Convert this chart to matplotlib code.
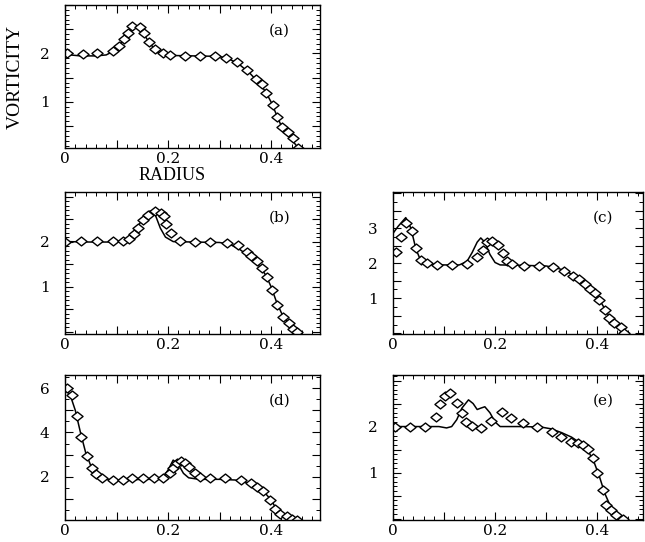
import matplotlib
matplotlib.use('Agg')
import matplotlib.pyplot as plt
from matplotlib.ticker import MultipleLocator, FuncFormatter
from matplotlib.path import Path
import numpy as np

# ---- data (radius, vorticity) ----
# (a)
a_line_r = [0, 0.03, 0.06, 0.08, 0.1, 0.115, 0.13, 0.14, 0.15, 0.165, 0.18, 0.2, 0.25,
            0.3, 0.32, 0.34, 0.36, 0.38, 0.39, 0.4, 0.41, 0.42, 0.43, 0.44, 0.453]
a_line_w = [1.98, 1.95, 1.95, 1.97, 2.08, 2.3, 2.52, 2.55, 2.45, 2.2, 2.03, 1.96, 1.95,
            1.94, 1.88, 1.76, 1.58, 1.35, 1.2, 1.0, 0.75, 0.5, 0.35, 0.22, 0.05]
a_pts_r = [0.003, 0.034, 0.063, 0.094, 0.104, 0.115, 0.123, 0.131, 0.146, 0.153, 0.164,
           0.175, 0.191, 0.204, 0.233, 0.262, 0.291, 0.313, 0.333, 0.353, 0.371, 0.382,
           0.39, 0.403, 0.411, 0.421, 0.432, 0.443, 0.453]
a_pts_w = [2.0, 1.98, 2.0, 2.06, 2.15, 2.3, 2.42, 2.56, 2.54, 2.42, 2.23, 2.1, 2.01,
           1.96, 1.95, 1.95, 1.95, 1.91, 1.82, 1.66, 1.47, 1.37, 1.18, 0.93, 0.69,
           0.48, 0.38, 0.25, 0.06]

# (b)
b_line_r = [0, 0.05, 0.1, 0.12, 0.135, 0.15, 0.165, 0.175, 0.185, 0.195, 0.21, 0.25, 0.3,
            0.32, 0.34, 0.36, 0.38, 0.39, 0.4, 0.41, 0.42, 0.43, 0.44, 0.452]
b_line_w = [2.0, 1.99, 1.99, 2.03, 2.2, 2.5, 2.68, 2.6, 2.3, 2.1, 2.0, 1.99, 1.98,
            1.94, 1.82, 1.65, 1.42, 1.25, 1.0, 0.68, 0.42, 0.25, 0.12, 0.0]
b_pts_r = [0.0, 0.032, 0.063, 0.093, 0.113, 0.124, 0.133, 0.142, 0.152, 0.162, 0.175,
           0.186, 0.192, 0.197, 0.205, 0.223, 0.252, 0.282, 0.314, 0.335, 0.353, 0.362,
           0.372, 0.382, 0.392, 0.401, 0.411, 0.424, 0.434, 0.443, 0.45]
b_pts_w = [2.0, 2.01, 2.01, 2.01, 2.02, 2.05, 2.17, 2.3, 2.47, 2.59, 2.67, 2.63, 2.56,
           2.39, 2.19, 2.02, 1.99, 1.99, 1.96, 1.93, 1.78, 1.67, 1.56, 1.41, 1.22, 0.93,
           0.59, 0.32, 0.19, 0.07, 0.0]

# (c)
c_line_r = [0, 0.01, 0.025, 0.035, 0.045, 0.055, 0.07, 0.1, 0.13, 0.145, 0.155, 0.165,
            0.172, 0.18, 0.19, 0.2, 0.21, 0.25, 0.3, 0.32, 0.34, 0.36, 0.38, 0.395,
            0.405, 0.415, 0.425, 0.435, 0.445, 0.455]
c_line_w = [2.85, 3.05, 3.3, 3.0, 2.4, 2.05, 1.97, 1.95, 1.95, 2.05, 2.3, 2.6, 2.72, 2.6,
            2.25, 2.02, 1.95, 1.94, 1.92, 1.87, 1.77, 1.6, 1.38, 1.15, 0.95, 0.7, 0.45,
            0.28, 0.15, 0.0]
c_pts_r = [0.005, 0.016, 0.026, 0.037, 0.046, 0.055, 0.066, 0.087, 0.115, 0.145, 0.165,
           0.176, 0.184, 0.195, 0.205, 0.215, 0.224, 0.234, 0.256, 0.286, 0.314, 0.335,
           0.353, 0.364, 0.377, 0.387, 0.395, 0.403, 0.416, 0.423, 0.434, 0.446, 0.453]
c_pts_w = [2.33, 2.76, 3.14, 2.93, 2.43, 2.1, 2.0, 1.95, 1.95, 1.98, 2.19, 2.38, 2.59,
           2.62, 2.52, 2.29, 2.07, 1.97, 1.93, 1.93, 1.9, 1.78, 1.64, 1.54, 1.4, 1.27,
           1.14, 0.95, 0.67, 0.43, 0.29, 0.19, 0.0]

# (d)
d_line_r = [0, 0.01, 0.02, 0.03, 0.04, 0.05, 0.06, 0.07, 0.09, 0.12, 0.15, 0.18, 0.19,
            0.2, 0.21, 0.22, 0.23, 0.24, 0.26, 0.3, 0.33, 0.35, 0.37, 0.385, 0.4, 0.41,
            0.42, 0.43, 0.44, 0.452]
d_line_w = [6.0, 5.7, 5.0, 4.0, 3.1, 2.5, 2.15, 1.95, 1.85, 1.85, 1.88, 1.88, 1.95, 2.3,
            2.75, 2.55, 2.15, 1.95, 1.88, 1.88, 1.85, 1.75, 1.55, 1.35, 0.95, 0.55, 0.35,
            0.22, 0.12, 0.03]
d_pts_r = [0.003, 0.013, 0.024, 0.032, 0.043, 0.052, 0.061, 0.071, 0.093, 0.112, 0.131,
           0.152, 0.173, 0.191, 0.203, 0.21, 0.217, 0.225, 0.233, 0.241, 0.252, 0.262,
           0.282, 0.311, 0.341, 0.361, 0.372, 0.385, 0.398, 0.408, 0.417, 0.43, 0.44, 0.45]
d_pts_w = [6.0, 5.7, 4.76, 3.79, 2.94, 2.38, 2.12, 1.92, 1.85, 1.85, 1.92, 1.95, 1.95,
           1.95, 2.15, 2.38, 2.6, 2.73, 2.6, 2.42, 2.18, 2.0, 1.92, 1.92, 1.85, 1.7,
           1.55, 1.36, 0.94, 0.52, 0.3, 0.21, 0.1, 0.03]

# (e)
e_line_r = [0, 0.05, 0.09, 0.105, 0.115, 0.125, 0.135, 0.148, 0.157, 0.165, 0.172, 0.18,
            0.19, 0.2, 0.21, 0.25, 0.29, 0.31, 0.33, 0.35, 0.37, 0.385, 0.395, 0.405,
            0.415, 0.425, 0.435, 0.45]
e_line_w = [2.0, 2.0, 2.0, 1.97, 2.0, 2.15, 2.4, 2.58, 2.5, 2.37, 2.4, 2.43, 2.3, 2.1,
            2.0, 2.0, 1.99, 1.95, 1.87, 1.77, 1.62, 1.42, 1.2, 0.9, 0.55, 0.3, 0.15, 0.0]
e_pts_r = [0.003, 0.033, 0.063, 0.085, 0.092, 0.102, 0.112, 0.125, 0.135, 0.143, 0.154,
           0.172, 0.193, 0.213, 0.232, 0.254, 0.283, 0.312, 0.33, 0.349, 0.362, 0.372,
           0.382, 0.392, 0.4, 0.411, 0.418, 0.427, 0.437, 0.45]
e_pts_w = [2.0, 1.99, 2.0, 2.2, 2.49, 2.67, 2.72, 2.52, 2.29, 2.09, 2.01, 1.96, 2.11,
           2.31, 2.18, 2.07, 1.98, 1.89, 1.77, 1.67, 1.64, 1.6, 1.51, 1.31, 1.0, 0.62,
           0.3, 0.19, 0.08, 0.0]

panel_tags = ['(a)', '(b)', '(c)', '(d)', '(e)']

plt.rcParams['font.family'] = ['DejaVu Serif']

# wide, flat diamond marker
diamond = Path([(-1, 0), (0, 0.8), (1, 0), (0, -0.8), (-1, 0)],
               [Path.MOVETO, Path.LINETO, Path.LINETO, Path.LINETO, Path.CLOSEPOLY])

fig = plt.figure(figsize=(6.45, 5.42), dpi=100)

W = 645.0
H = 542.0


def box(left, top, right, bottom):
    return [left / W, 1 - bottom / H, (right - left) / W, (bottom - top) / H]


panels = [
    (box(65, 5, 320, 148), a_line_r, a_line_w, a_pts_r, a_pts_w, (0.05, 3.0), [1, 2], 0.5, 0.1, 0.495),
    (box(65, 192, 320, 334), b_line_r, b_line_w, b_pts_r, b_pts_w, (-0.05, 3.1), [1, 2], 0.5, 0.1, 0.495),
    (box(393, 192, 643, 334), c_line_r, c_line_w, c_pts_r, c_pts_w, (-0.02, 4.03), [1, 2, 3], 0.5, 0.25, 0.49),
    (box(65, 375, 320, 520), d_line_r, d_line_w, d_pts_r, d_pts_w, (0.04, 6.6), [2, 4, 6], 1.0, 0.5, 0.495),
    (box(393, 375, 643, 520), e_line_r, e_line_w, e_pts_r, e_pts_w, (-0.03, 3.12), [1, 2], 0.5, 0.1, 0.49),
]

axes = []
for i, (pos, lr, lw, pr, pw, ylim, ylabs, ymaj, ymin, xmax) in enumerate(panels):
    ax = fig.add_axes(pos)
    ax.plot(lr, lw, color='black', linewidth=1.1)
    ax.plot(pr, pw, linestyle='none', marker=diamond, markersize=8,
            markerfacecolor='white', markeredgecolor='black', markeredgewidth=1.0)
    ax.set_xlim(0, xmax)
    ax.set_ylim(*ylim)

    ax.xaxis.set_major_locator(MultipleLocator(0.1))
    ax.xaxis.set_minor_locator(MultipleLocator(0.02))
    ax.xaxis.set_major_formatter(FuncFormatter(
        lambda v, p: {0: '0', 2: '0.2', 4: '0.4'}.get(int(round(v * 10)), '')))
    ax.yaxis.set_major_locator(MultipleLocator(ymaj))
    ax.yaxis.set_minor_locator(MultipleLocator(ymin))
    ax.yaxis.set_major_formatter(FuncFormatter(
        lambda v, p, labs=ylabs: str(int(round(v))) if abs(v - round(v)) < 1e-6 and int(round(v)) in labs else ''))

    ax.tick_params(which='both', direction='in', top=True, right=True, labelsize=11)
    ax.tick_params(which='major', length=6, width=0.8)
    ax.tick_params(which='minor', length=3, width=0.7)
    ax.tick_params(axis='y', pad=11)
    ax.tick_params(axis='x', pad=3)
    for s in ax.spines.values():
        s.set_linewidth(1.0)

    ax.text(0.84, 0.82, panel_tags[i], transform=ax.transAxes,
            ha='center', va='center', fontsize=11)
    axes.append(ax)

axes[0].set_ylabel('VORTICITY', family='Liberation Serif', fontsize=14)
axes[0].yaxis.set_label_coords(-0.16, 0.5)
axes[0].set_xlabel('RADIUS', family='Liberation Serif', fontsize=13)
axes[0].xaxis.set_label_coords(0.42, -0.135)

fig.savefig('out.png', dpi=100)
